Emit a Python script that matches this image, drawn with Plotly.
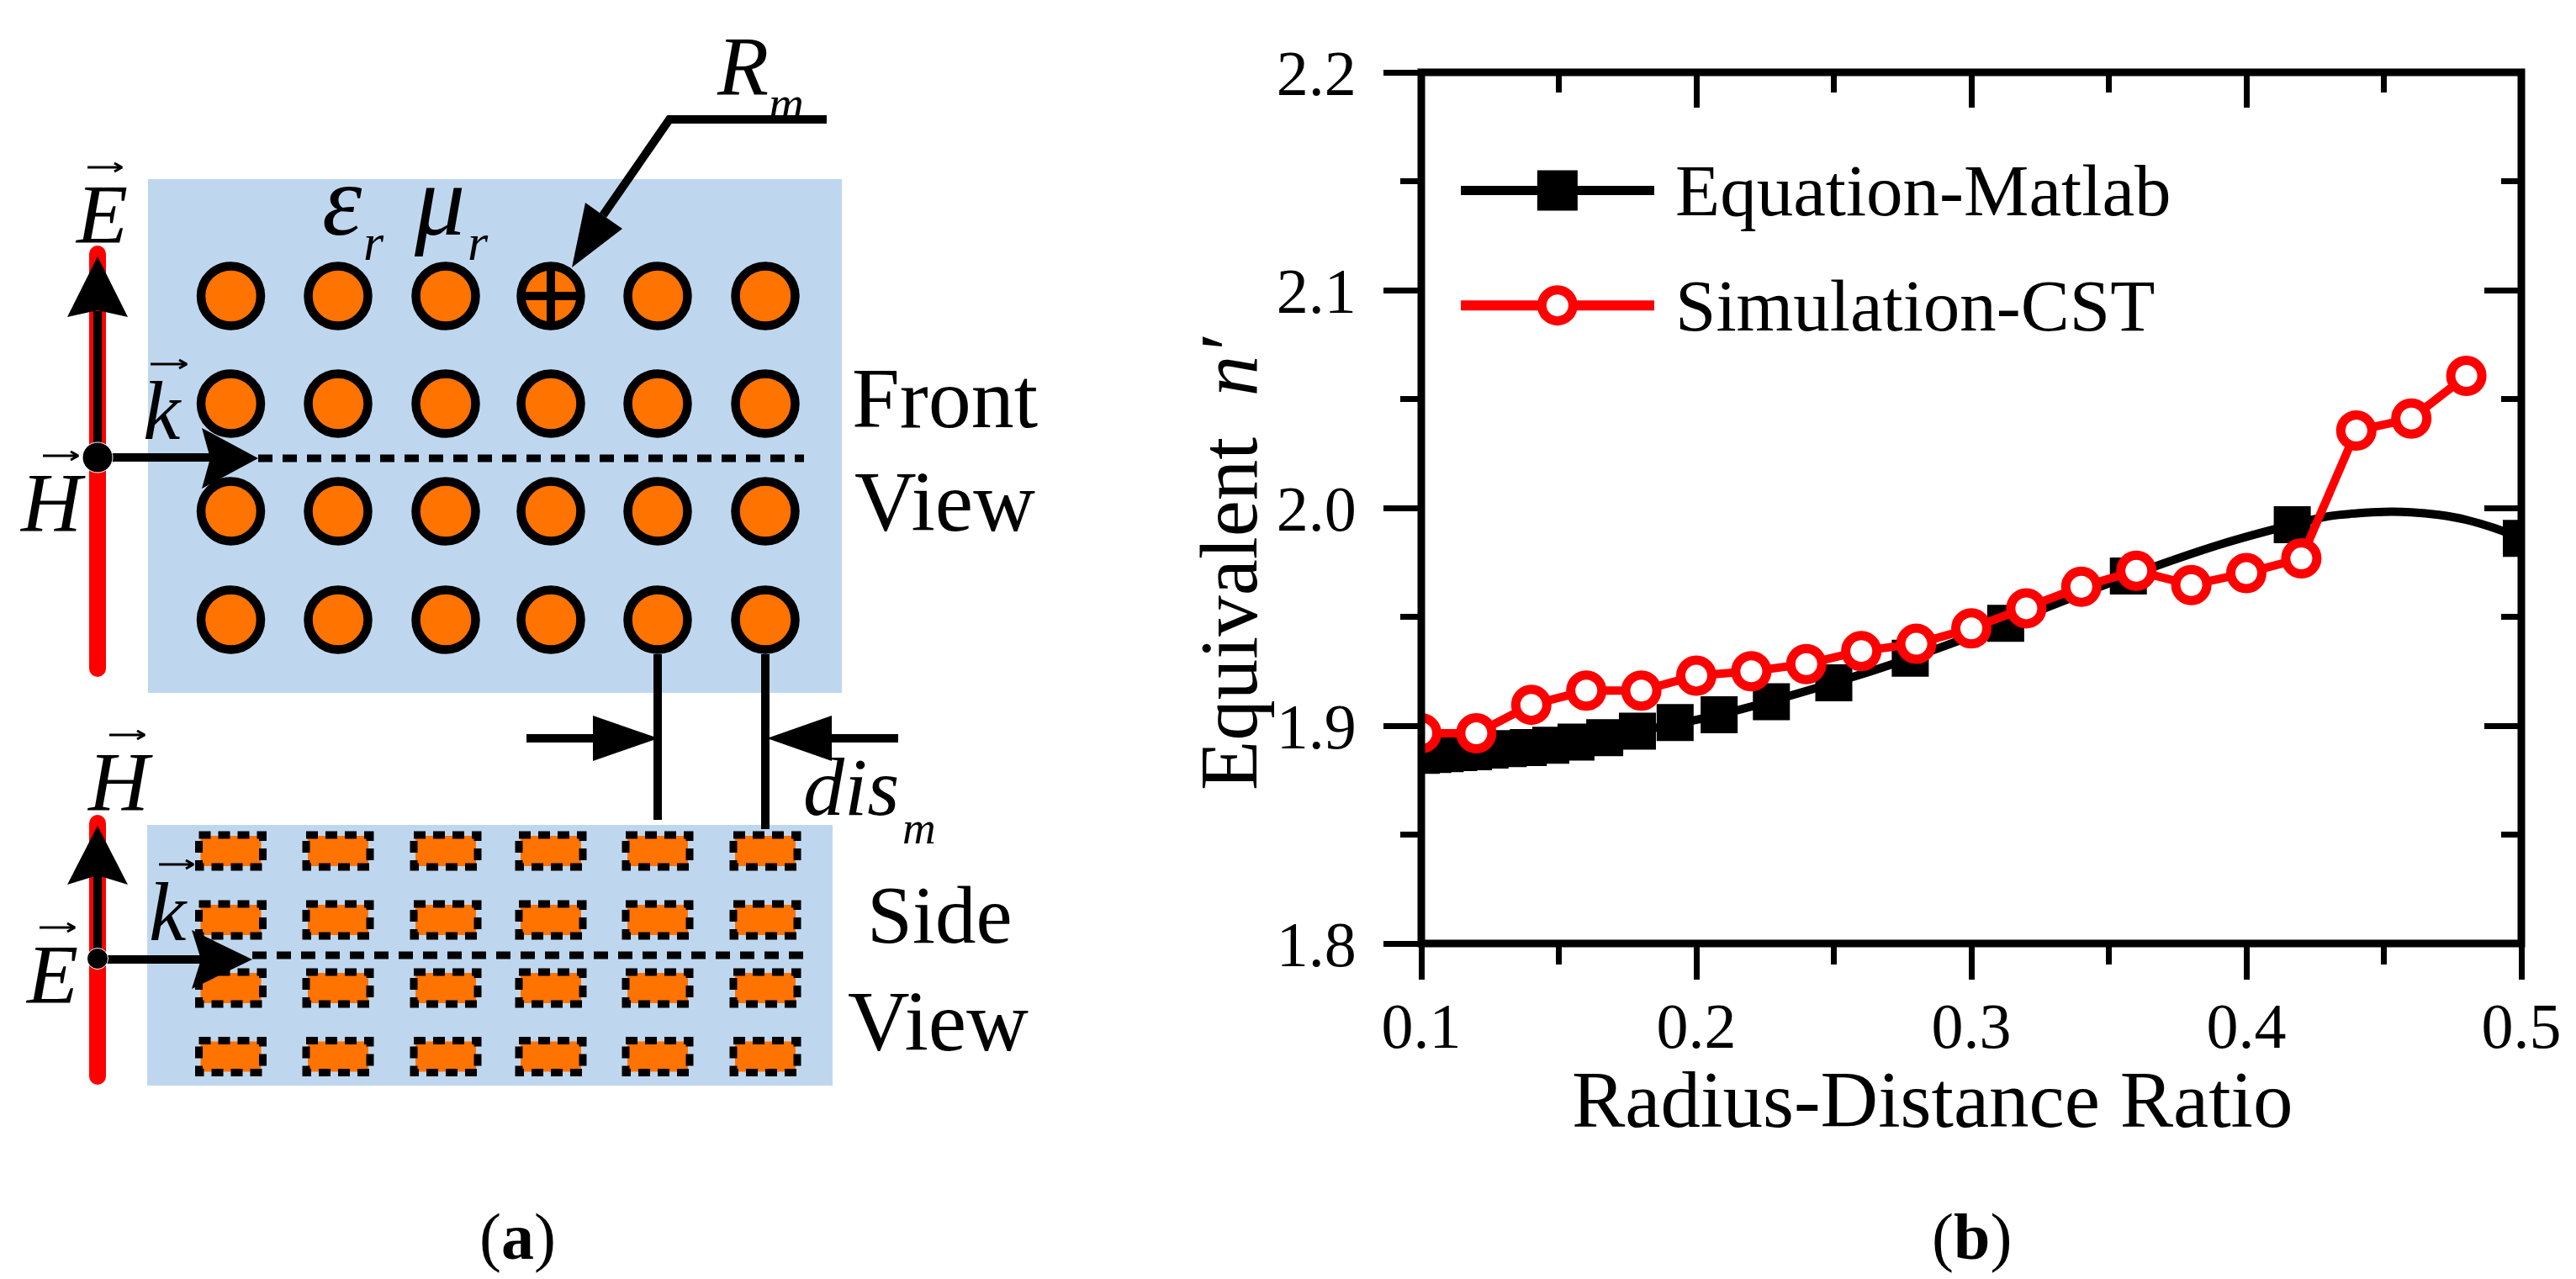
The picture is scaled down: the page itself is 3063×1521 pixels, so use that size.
import plotly.graph_objects as go

W, H = 3063, 1521
PX0, PX1, PY0, PY1 = 1690, 2998, 86, 1122   # plot frame in page pixels

# ---------- panel (b) data ----------
eq_x = [0.1, 0.1042, 0.1087, 0.1136, 0.119, 0.125, 0.1316, 0.1389, 0.1471, 0.15625, 0.1667, 0.1786,
        0.1923, 0.2083, 0.2273, 0.25, 0.2778, 0.3125, 0.3571, 0.4167, 0.5]
eq_y = [1.8864, 1.8868, 1.8872, 1.8876, 1.888, 1.8888, 1.8895, 1.890, 1.891, 1.8925, 1.8945, 1.8975,
        1.9014, 1.905, 1.911, 1.9197, 1.931, 1.947, 1.9687, 1.9923, 1.986]
curve_x = [0.1, 0.125, 0.15625, 0.1786, 0.2083, 0.25, 0.2778, 0.3125, 0.3571, 0.39, 0.4167, 0.43, 0.44, 0.45, 0.46, 0.47, 0.48, 0.49, 0.5]
curve_y = [1.8864, 1.8888, 1.8925, 1.8975, 1.905, 1.9197, 1.931, 1.947, 1.9687, 1.983, 1.9923, 1.9962, 1.9975, 1.9982, 1.998, 1.9968, 1.9945, 1.9908, 1.986]
sim_x = [0.10, 0.12, 0.14, 0.16, 0.18, 0.20, 0.22, 0.24, 0.26, 0.28, 0.30, 0.32, 0.34, 0.36, 0.38, 0.40, 0.42, 0.44, 0.46, 0.48]
sim_y = [1.8965, 1.8965, 1.9096, 1.9161, 1.9161, 1.923, 1.925, 1.9283, 1.9343, 1.9376, 1.9447, 1.9539,
         1.9638, 1.9711, 1.9646, 1.9701, 1.9768, 2.0355, 2.041, 2.0606]
legend_line_x = [0.1144, 0.1847]
legend_mark_x = [0.1495]
legend_eq_y = 2.1458
legend_sim_y = 2.093
legend_text_x = 0.1917
series_names = ["Equation-Matlab", "Simulation-CST"]
x_title = "Radius-Distance Ratio"
y_title = "Equivalent  <i>n′</i>"
x_ticks = [0.1, 0.2, 0.3, 0.4, 0.5]
y_ticks = [1.8, 1.9, 2.0, 2.1, 2.2]

# ---------- panel (a) diagram, in page pixels ----------
BLUE, ORANGE, RED = "#BFD7EE", "#FF7300", "#FF0000"
col_x = [274.5, 402, 530, 655, 782, 910]
front_y = [352, 480, 608, 737]
side_y = [1012, 1094, 1175, 1256.5]
blue_rects = [(176, 213, 1001, 824), (175, 981, 990, 1291)]
red_lines = [([116, 116], [302, 795]), ([116, 116], [979, 1280])]
black_lines = [([116, 116], [370, 544]), ([116, 250], [544, 544]),
               ([116, 116], [1041, 1140]), ([116, 239], [1141, 1141]),
               ([983, 796, 717], [142, 142, 256]),
               ([782, 782], [778, 975]), ([910, 910], [778, 986]),
               ([626, 705], [878, 878]), ([1068, 989], [878, 878]),
               ([619, 691], [352, 352]), ([655, 655], [316, 388])]
dotted_lines = [([307, 956], [545, 545]), ([300, 956], [1136, 1136])]
heads = [[(116, 305), (152, 377), (116, 369), (80, 377)],
         [(307, 545), (240, 509), (250, 545), (240, 581)],
         [(116, 982), (152, 1052), (116, 1041), (80, 1052)],
         [(300, 1141), (228, 1106), (239, 1141), (228, 1176)],
         [(680, 318), (696, 241), (717, 256), (740, 272)],
         [(783, 878), (705, 851), (705, 905)],
         [(912, 878), (989, 851), (989, 905)]]
dots = [(116, 544, 36), (116, 1140, 25)]
vec_marks = [(104, 145, 199), (51, 93, 542), (179, 222, 433),
             (130, 172, 874), (47, 89, 1103), (189, 230, 1028)]
labels = [  # text, centre x, centre y, size
    ("<i>E</i>", 121, 254, 100), ("<i>H</i>", 62, 598, 100), ("<i>k</i>", 193, 489, 100),
    ("<i>H</i>", 142, 929, 100), ("<i>E</i>", 61, 1158, 100), ("<i>k</i>", 200, 1084, 100),
    ("<i>ε</i>", 407, 238, 120), ("<i>r</i>", 444, 288, 62), ("<i>μ</i>", 522, 238, 120), ("<i>r</i>", 568, 288, 62),
    ("<i>R</i>", 883, 78, 100), ("<i>m</i>", 935, 123, 58),
    ("<i>dis</i>", 1012, 936, 98), ("<i>m</i>", 1093, 984, 55),
    ("Front", 1123, 473, 102), ("View", 1123, 596, 102),
    ("Side", 1117, 1088, 97), ("View", 1115, 1214, 102),
    ("(<b>a</b>)", 615, 1470, 78), ("(<b>b</b>)", 2344, 1470, 78),
]

fig = go.Figure()
A = dict(xaxis="x3", yaxis="y3", hoverinfo="skip", showlegend=False)

def joined(segments):
    xs, ys = [], []
    for sx, sy in segments:
        xs += list(sx) + [None]
        ys += list(sy) + [None]
    return xs, ys

# blue backgrounds
bx, by = joined([([a, c, c, a, a], [b, b, d, d, b]) for a, b, c, d in blue_rects])
fig.add_trace(go.Scatter(x=bx, y=by, mode="lines", fill="toself", fillcolor=BLUE, line=dict(width=0), **A))
# side-view patches
ox, oy = joined([([c - 36, c + 36, c + 36, c - 36, c - 36], [r - 18, r - 18, r + 18, r + 18, r - 18])
                 for c in col_x for r in side_y])
fig.add_trace(go.Scatter(x=ox, y=oy, mode="lines", fill="toself", fillcolor=ORANGE, line=dict(width=0), **A))
dx, dy = joined([([c - 38, c + 38, c + 38, c - 38, c - 38], [r - 19, r - 19, r + 19, r + 19, r - 19])
                 for c in col_x for r in side_y])
fig.add_trace(go.Scatter(x=dx, y=dy, mode="lines", line=dict(color="black", width=9, dash="14px,9px"), **A))
# front-view circles
fig.add_trace(go.Scatter(x=[c for c in col_x for r in front_y], y=[r for c in col_x for r in front_y],
                         mode="markers", marker=dict(size=71, color=ORANGE, line=dict(color="black", width=10.5)), **A))
# red field lines
rx, ry = joined(red_lines)
fig.add_trace(go.Scatter(x=rx, y=ry, mode="lines+markers", line=dict(color=RED, width=20),
                         marker=dict(size=20, color=RED), **A))
# black lines
kx, ky = joined(black_lines)
fig.add_trace(go.Scatter(x=kx, y=ky, mode="lines", line=dict(color="black", width=10), **A))
tx, ty = joined(dotted_lines)
fig.add_trace(go.Scatter(x=tx, y=ty, mode="lines", line=dict(color="black", width=9, dash="17px,12px"), **A))
# arrow heads
hx, hy = joined([([p[0] for p in h] + [h[0][0]], [p[1] for p in h] + [h[0][1]]) for h in heads])
fig.add_trace(go.Scatter(x=hx, y=hy, mode="lines", fill="toself", fillcolor="black", line=dict(width=0), **A))
fig.add_trace(go.Scatter(x=[d[0] for d in dots], y=[d[1] for d in dots], mode="markers",
                         marker=dict(size=[d[2] for d in dots], color="black", opacity=1), **A))
# small vector arrows above the field letters
vx, vy = joined([([a, b, b - 9, b, b - 9], [y, y, y - 5, y, y + 5]) for a, b, y in vec_marks])
fig.add_trace(go.Scatter(x=vx, y=vy, mode="lines", line=dict(color="black", width=3), **A))

# ---------- panel (b) traces ----------
fig.add_trace(go.Scatter(x=curve_x, y=curve_y, mode="lines", line=dict(color="black", width=10, shape="spline"),
                         showlegend=False, hoverinfo="skip"))
fig.add_trace(go.Scatter(x=eq_x, y=eq_y, mode="markers", name=series_names[0],
                         marker=dict(symbol="square", size=44, color="black"), showlegend=False))
fig.add_trace(go.Scatter(x=sim_x, y=sim_y, mode="lines+markers", name=series_names[1],
                         line=dict(color=RED, width=10),
                         marker=dict(symbol="circle", size=37, color="white", line=dict(color=RED, width=11)),
                         showlegend=False))
# legend samples
fig.add_trace(go.Scatter(x=legend_line_x, y=[legend_eq_y] * 2, mode="lines", line=dict(color="black", width=11),
                         showlegend=False, hoverinfo="skip"))
fig.add_trace(go.Scatter(x=legend_mark_x, y=[legend_eq_y], mode="markers",
                         marker=dict(symbol="square", size=48, color="black"), showlegend=False, hoverinfo="skip"))
fig.add_trace(go.Scatter(x=legend_line_x, y=[legend_sim_y] * 2, mode="lines", line=dict(color=RED, width=12),
                         showlegend=False, hoverinfo="skip"))
fig.add_trace(go.Scatter(x=legend_mark_x, y=[legend_sim_y], mode="markers",
                         marker=dict(symbol="circle", size=37, color="white", line=dict(color=RED, width=11)),
                         showlegend=False, hoverinfo="skip"))
# invisible trace so the mirrored axes exist
fig.add_trace(go.Scatter(x=[0.1], y=[1.8], xaxis="x2", yaxis="y2", mode="lines", line=dict(width=0),
                         showlegend=False, hoverinfo="skip"))

FONT = "Liberation Serif"
xdom = [PX0 / W, PX1 / W]
ydom = [1 - PY1 / H, 1 - PY0 / H]
tick_x = dict(range=[0.1, 0.5], tickvals=x_ticks, ticktext=[f"{v:.1f}" for v in x_ticks],
              tickwidth=7, ticklen=42, tickcolor="black", showgrid=False, zeroline=False, showline=False,
              minor=dict(tick0=0.15, dtick=0.1, ticks="", ticklen=24, tickwidth=7, tickcolor="black", showgrid=False),
              tickfont=dict(family=FONT, size=76, color="black"))
tick_y = dict(range=[1.8, 2.2], tickvals=y_ticks, ticktext=[f"{v:.1f}" for v in y_ticks],
              tickwidth=7, ticklen=44, tickcolor="black", showgrid=False, zeroline=False, showline=False,
              minor=dict(tick0=1.85, dtick=0.1, ticks="", ticklen=24, tickwidth=7, tickcolor="black", showgrid=False),
              tickfont=dict(family=FONT, size=76, color="black"))

def with_side(base, ticks):
    d = dict(base)
    d["ticks"] = ticks
    d["minor"] = dict(base["minor"], ticks=ticks)
    return d

annots = []
for text, cx, cy, size in labels:
    annots.append(dict(text=text, x=cx / W, y=1 - cy / H, xref="paper", yref="paper", xanchor="center", yanchor="middle",
                       showarrow=False, font=dict(family=FONT, size=size, color="black")))
annots += [
    dict(text=series_names[0], x=legend_text_x, y=legend_eq_y, xref="x", yref="y", xanchor="left", yanchor="middle",
         showarrow=False, font=dict(family=FONT, size=87, color="black")),
    dict(text=series_names[1], x=legend_text_x, y=legend_sim_y, xref="x", yref="y", xanchor="left", yanchor="middle",
         showarrow=False, font=dict(family=FONT, size=87, color="black")),
    dict(text=x_title, x=2297 / W, y=1 - 1308 / H, xref="paper", yref="paper", xanchor="center", yanchor="middle",
         showarrow=False, font=dict(family=FONT, size=95, color="black")),
    dict(text=y_title, x=1462 / W, y=1 - 670 / H, xref="paper", yref="paper", xanchor="center", yanchor="middle",
         textangle=-90, showarrow=False, font=dict(family=FONT, size=97, color="black")),
]

fig.update_layout(
    width=W, height=H, margin=dict(l=0, r=0, t=0, b=0, autoexpand=False), paper_bgcolor="white", plot_bgcolor="rgba(0,0,0,0)",
    showlegend=False, annotations=annots,
    xaxis=dict(with_side(tick_x, "outside"), domain=xdom, anchor="y", ticklabelstandoff=-10),
    yaxis=dict(with_side(tick_y, "outside"), domain=ydom, anchor="x", ticklabelstandoff=17),
    xaxis2=dict(with_side(tick_x, "inside"), domain=xdom, anchor="y2", overlaying="x", side="top", showticklabels=False),
    yaxis2=dict(with_side(tick_y, "inside"), domain=ydom, anchor="x2", overlaying="y", side="right", showticklabels=False),
    xaxis3=dict(domain=[0, 1], range=[0, W], visible=False, anchor="y3"),
    yaxis3=dict(domain=[0, 1], range=[H, 0], visible=False, anchor="x3"),
    shapes=[dict(type="rect", xref="paper", yref="paper", x0=xdom[0], x1=xdom[1], y0=ydom[0], y1=ydom[1],
                 line=dict(color="black", width=9), layer="above")],
)
fig.write_html("out.html", config={"displayModeBar": False},
               post_script="document.body.style.margin='0';document.body.style.overflow='hidden';")
